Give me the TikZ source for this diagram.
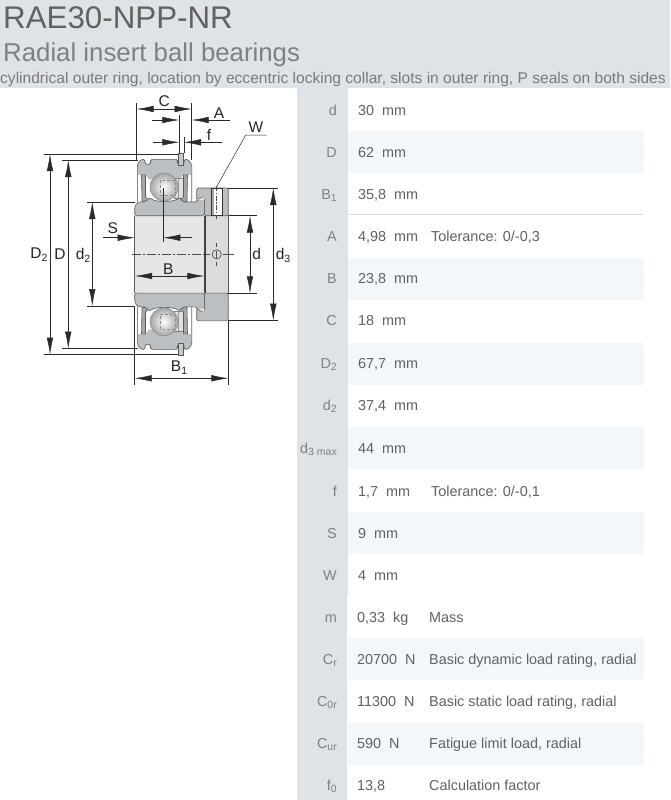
\documentclass[tikz,border=0pt]{standalone}
\usepackage{fontspec}
\setmainfont{Liberation Sans}
\usetikzlibrary{arrows.meta}

\definecolor{headgray}{HTML}{DEE3E8}
\definecolor{rowtint}{HTML}{F3F7FA}
\definecolor{ringgray}{HTML}{BCBFC1}
\definecolor{boregray}{HTML}{E6E6E6}
\definecolor{dimcol}{HTML}{2A2A2A}

\newcommand{\lowidx}[1]{\raisebox{-0.35ex}{\fontsize{10.5}{10}\selectfont #1}}

\tikzset{
    extline/.style={dimcol, line width=0.5pt},
    dimboth/.style={dimcol, line width=0.5pt, {Latex[length=17pt,width=6.5pt]}-{Latex[length=17pt,width=6.5pt]}},
    dimtip/.style={dimcol, line width=0.5pt, -{Latex[length=17pt,width=6.5pt]}},
    partline/.style={draw=black!65, line width=0.6pt},
    centerline/.style={black!70, line width=0.5pt, dash pattern=on 9pt off 2pt on 2pt off 2pt},
    dimtext/.style={inner sep=0pt, text=black!85, font=\fontsize{15.5}{17}\selectfont},
    rowlabel/.style={anchor=base east, inner sep=0pt, text=black!50, font=\fontsize{14.4}{16}\selectfont},
    rowvalue/.style={anchor=base west, inner sep=0pt, text=black!62, font=\fontsize{14.4}{16}\selectfont},
}

% upper half of the bearing, y measured from the axis
\newcommand{\halfbearing}{
    % outer ring
    \filldraw[partline, fill=ringgray, rounded corners=1.5pt]
        (137.3,-52) -- (137.3,-90) -- (141,-95) -- (145,-95) -- (145,-90) -- (150.5,-90)
        -- (150.5,-95) -- (177.5,-95) -- (177.5,-90) -- (184,-90) -- (184,-95)
        -- (188,-95) -- (191.8,-90) -- (191.8,-52);
    \fill[white] (137.8,-79.5) rectangle (191.3,-50);
    \fill[ringgray] (146,-79.5) -- (149,-75) -- (180,-75) -- (183,-79.5) -- cycle;
    % locating slot
    \filldraw[partline, fill=ringgray!85] (178,-101) rectangle (183,-89);
    % cage
    \filldraw[draw=black!50, line width=0.5pt, fill=black!12] (174,-76.5) rectangle (183,-56.5);
    \draw[black!40, line width=0.4pt] (178,-76.5) -- (178,-56.5);
    % seals
    \filldraw[partline, fill=black!35] (141.5,-79.5) -- (145.5,-79.5) -- (145.5,-58) -- (149,-53) -- (142,-53) -- cycle;
    \filldraw[partline, fill=black!35] (187.5,-79.5) -- (183.5,-79.5) -- (183.5,-58) -- (180,-53) -- (187,-53) -- cycle;
    % collar
    \filldraw[partline, fill=ringgray, rounded corners=1.5pt]
        (196.7,-54) -- (196.7,-66.4) -- (228.2,-66.4) -- (228.2,-38.7) -- (204.3,-38.7) -- (204.3,-54) -- cycle;
    % inner ring
    \filldraw[partline, fill=ringgray, rounded corners=2pt]
        (134.7,-38.7) -- (134.7,-48) -- (138,-52.4) -- (146,-52.4) -- (149,-57)
        .. controls (153,-54) and (158,-53) .. (164,-53)
        .. controls (170,-53) and (176,-54) .. (180,-57)
        -- (182,-52.4) -- (197,-52.4) -- (198,-56) -- (204.3,-57) -- (204.3,-38.7) -- cycle;
    \fill[white] (197.2,-54.4) -- (204,-56.6) -- (204,-55) -- cycle;
    % ball
    \shade[inner color=white, outer color=black!35] (164,-67.4) circle (14);
    \draw[black!50, line width=0.4pt] (164,-67.4) circle (14);
    \draw[black!45, line width=0.4pt, dash pattern=on 3pt off 2pt] (160,-74.5) rectangle (175,-59.5);
}

\begin{document}
\begin{tikzpicture}[x=1pt, y=-1pt]
    \useasboundingbox (0,0) rectangle (670,800);
    \fill[white] (0,0) rectangle (670,800);

    % header
    \fill[headgray] (0,0) rectangle (670,88);
    \node[anchor=base west, inner sep=0pt, text=black!62, font=\fontsize{31.3}{34}\selectfont] (title) at (3,29) {RAE30-NPP-NR};
    \node[anchor=base west, inner sep=0pt, text=black!50, font=\fontsize{25.8}{28}\selectfont] (subtitle) at (3,62) {Radial insert ball bearings};
    \node[anchor=base west, inner sep=0pt, text=black!52, font=\fontsize{15.57}{17}\selectfont] (remark) at (0,84) {cylindrical outer ring, location by eccentric locking collar, slots in outer ring, P seals on both sides};

    % table
    \fill[headgray] (297,88) rectangle (348,595);
    \fill[headgray] (297,595) rectangle (347,800);
    \foreach \ya/\yb in {131/173, 258/300, 343/385, 427/469, 512/554, 638/680, 723/765}
        \fill[rowtint] (348,\ya) rectangle (644,\yb);
    \draw[black!15, line width=0.8pt] (348,214) -- (644,214);

    \foreach \i/\y/\lab/\val/\note in {
        1/110/{d}/{30}/{},
        2/152/{D}/{62}/{},
        3/194/{B\lowidx{1}}/{35,8}/{},
        4/236/{A}/{4,98}/{Tolerance: 0/-0,3},
        5/278/{B}/{23,8}/{},
        6/320/{C}/{18}/{},
        7/363/{D\lowidx{2}}/{67,7}/{},
        8/405/{d\lowidx{2}}/{37,4}/{},
        9/448/{d\lowidx{3 max}}/{44}/{},
        10/491/{f}/{1,7}/{Tolerance: 0/-0,1},
        11/533/{S}/{9}/{},
        12/575/{W}/{4}/{}} {
        \node[rowlabel] (lab\i) at (337,\y+5) {\lab};
        \node[rowvalue] (val\i) at (358,\y+5) {\val\ \ mm};
        \node[rowvalue] (note\i) at (431,\y+5) {\note};
    }
    \foreach \i/\y/\lab/\val/\note in {
        13/617/{m}/{0,33\ \ kg}/{Mass},
        14/659/{C\lowidx{r}}/{20700\ \ N}/{Basic dynamic load rating, radial},
        15/701/{C\lowidx{0r}}/{11300\ \ N}/{Basic static load rating, radial},
        16/743/{C\lowidx{ur}}/{590\ \ N}/{Fatigue limit load, radial},
        17/785/{f\lowidx{0}}/{13,8}/{Calculation factor}} {
        \node[rowlabel] (lab\i) at (337,\y+5) {\lab};
        \node[rowvalue] (val\i) at (357,\y+5) {\val};
        \node[rowvalue] (note\i) at (429,\y+5) {\note};
    }

    % extension lines
    \draw[extline] (136.7,103) -- (136.7,160);
    \draw[extline] (191.7,103) -- (191.7,160);
    \draw[extline] (179.3,115) -- (179.3,153);
    \draw[extline] (184,137) -- (184,153);
    \draw[extline] (44,154) -- (183,154);
    \draw[extline] (44,354.5) -- (183,354.5);
    \draw[extline] (62,160) -- (138,160);
    \draw[extline] (62,348.5) -- (138,348.5);
    \draw[extline] (87,202) -- (135,202);
    \draw[extline] (87,306) -- (135,306);
    \draw[extline] (134.7,306) -- (134.7,385);
    \draw[extline] (228.3,320) -- (228.3,385);
    \draw[extline] (228,215.7) -- (256.7,215.7);
    \draw[extline] (228,293.3) -- (256.7,293.3);
    \draw[extline] (228,188) -- (278.3,188);
    \draw[extline] (228,320.7) -- (278.3,320.7);

    % bore and collar face
    \fill[boregray] (134.7,215.7) rectangle (204.3,293.3);
    \fill[boregray!95!black] (205,215.7) rectangle (228.2,293.3);
    \draw[partline] (134.7,215.7) -- (134.7,293.3);
    \draw[partline] (228.2,215.7) -- (228.2,293.3);
    \draw[black!75, line width=1.5pt] (204.8,215.7) -- (204.8,293.3);

    % both halves
    \begin{scope}[shift={(0,254.4)}]
        \halfbearing
    \end{scope}
    \begin{scope}[shift={(0,254.4)}, yscale=-1]
        \halfbearing
    \end{scope}

    % hole for the grub screw
    \filldraw[draw=black!80, line width=1pt, fill=white] (211.2,188.5) rectangle (222.2,215.2);
    \fill[black!35] (211.7,189) rectangle (214,214.7);
    \draw[black!70, line width=0.5pt, dash pattern=on 5pt off 1.5pt on 1.5pt off 1.5pt] (216.7,186) -- (216.7,219);

    % axis and screw position
    \draw[centerline] (131.7,254.3) -- (203,254.3);
    \draw[black!70, line width=0.5pt] (206,254.3) -- (210,254.3);
    \draw[black!70, line width=0.5pt] (223,254.3) -- (234,254.3);
    \draw[black!75, line width=0.6pt] (216.7,254.3) circle (4.6);
    \draw[black!70, line width=0.5pt] (216.7,243) -- (216.7,247);
    \draw[black!70, line width=0.5pt] (216.7,250.5) -- (216.7,258);
    \draw[black!70, line width=0.5pt] (216.7,261.5) -- (216.7,265.5);

    % dimensions
    \draw[dimboth] (136.7,109) -- (191.7,109);
    \draw[dimtip] (151.7,120) -- (179.3,120);
    \draw[dimtip] (230,120) -- (191.7,120);
    \draw[dimtip] (152.7,142.3) -- (179.3,142.3);
    \draw[dimtip] (222.3,142.3) -- (184,142.3);
    \draw[dimboth] (50,154) -- (50,354.5);
    \draw[dimboth] (68.3,160) -- (68.3,348.5);
    \draw[dimboth] (92.3,202) -- (92.3,306);
    \draw[dimtip] (103.3,237.7) -- (134.7,237.7);
    \draw[dimtip] (192.3,237.7) -- (163.3,237.7);
    \draw[extline] (163.3,188) -- (163.3,242.3);
    \draw[dimboth] (135,276) -- (204.3,276);
    \draw[dimboth] (134.7,378.3) -- (228.3,378.3);
    \draw[dimboth] (250,215.7) -- (250,293.3);
    \draw[dimboth] (273.3,188) -- (273.3,320.7);
    \draw[extline] (266.7,135) -- (245.7,135) -- (216.7,186.7);

    \node[dimtext] (dimC) at (164.3,101) {C};
    \node[dimtext] (dimA) at (219,113.5) {A};
    \node[dimtext] (dimf) at (209,135) {f};
    \node[dimtext] (dimW) at (256,127) {W};
    \node[dimtext] (dimDtwo) at (39,255) {D\lowidx{2}};
    \node[dimtext] (dimD) at (60,254) {D};
    \node[dimtext] (dimdtwo) at (83,255) {d\lowidx{2}};
    \node[dimtext] (dimS) at (112.7,228) {S};
    \node[dimtext] (dimB) at (168.3,269) {B};
    \node[dimtext] (dimBone) at (179,368) {B\lowidx{1}};
    \node[dimtext] (dimd) at (256.7,254.3) {d};
    \node[dimtext] (dimdthree) at (283,255) {d\lowidx{3}};
\end{tikzpicture}
\end{document}
